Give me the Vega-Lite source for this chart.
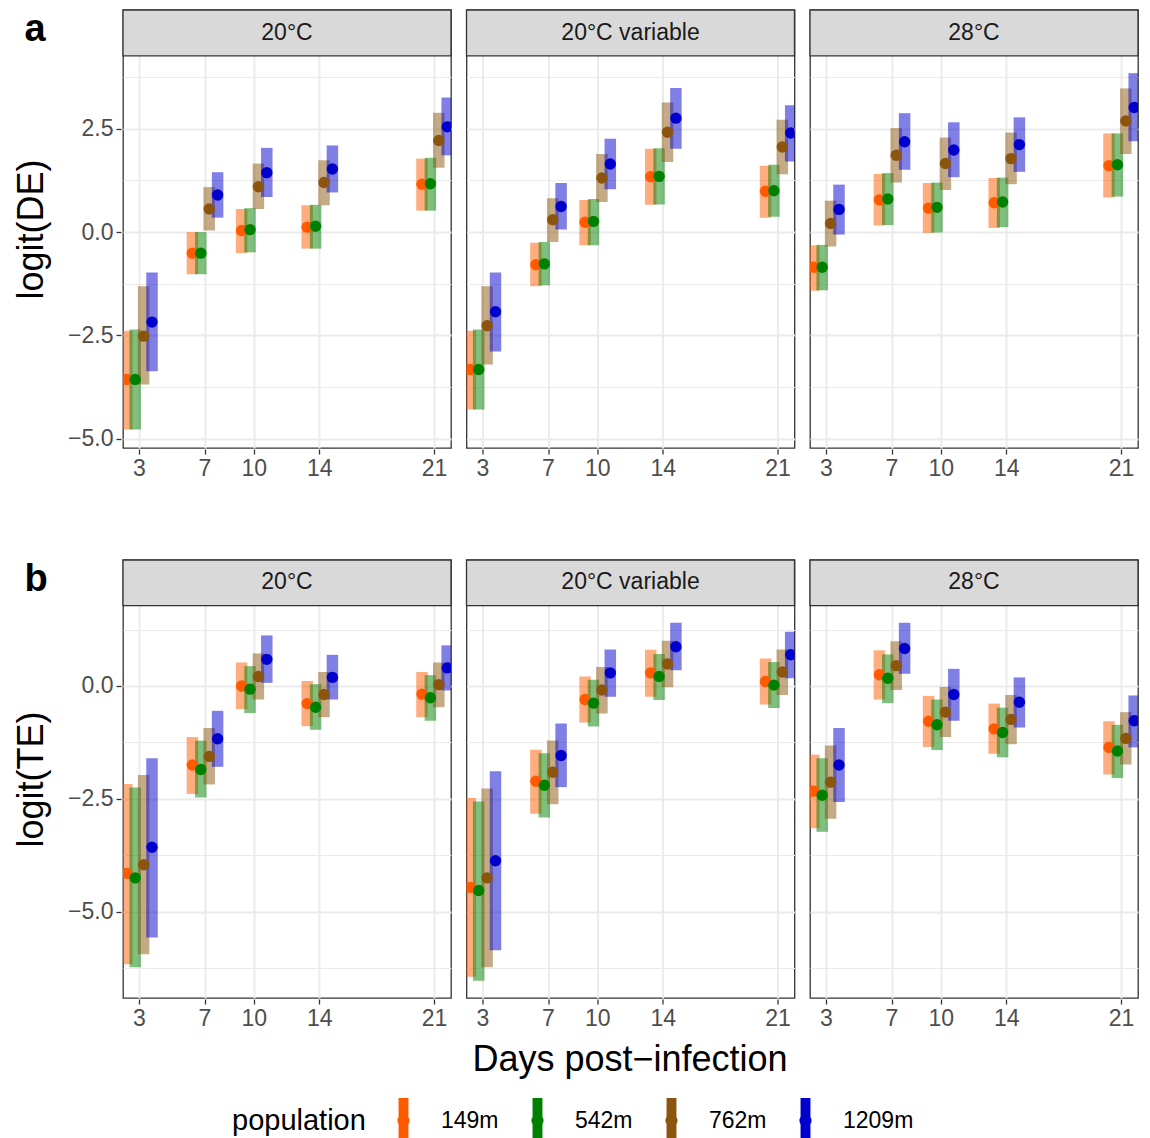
{
  "$schema": "https://vega.github.io/schema/vega-lite/v6.json",
  "padding": {"left": 13, "top": 8, "right": 5, "bottom": 5},
  "datasets": {
    "de": [
      {"condition":"20°C","day":3,"population":"149m","estimate":-3.57,"lower":-4.78,"upper":-2.39},
      {"condition":"20°C","day":3,"population":"542m","estimate":-3.57,"lower":-4.78,"upper":-2.36},
      {"condition":"20°C","day":3,"population":"762m","estimate":-2.52,"lower":-3.69,"upper":-1.31},
      {"condition":"20°C","day":3,"population":"1209m","estimate":-2.18,"lower":-3.37,"upper":-0.98},
      {"condition":"20°C","day":7,"population":"149m","estimate":-0.51,"lower":-1.02,"upper":0.0},
      {"condition":"20°C","day":7,"population":"542m","estimate":-0.51,"lower":-1.02,"upper":0.0},
      {"condition":"20°C","day":7,"population":"762m","estimate":0.56,"lower":0.04,"upper":1.09},
      {"condition":"20°C","day":7,"population":"1209m","estimate":0.90,"lower":0.35,"upper":1.45},
      {"condition":"20°C","day":10,"population":"149m","estimate":0.04,"lower":-0.51,"upper":0.56},
      {"condition":"20°C","day":10,"population":"542m","estimate":0.06,"lower":-0.49,"upper":0.58},
      {"condition":"20°C","day":10,"population":"762m","estimate":1.10,"lower":0.56,"upper":1.66},
      {"condition":"20°C","day":10,"population":"1209m","estimate":1.44,"lower":0.85,"upper":2.04},
      {"condition":"20°C","day":14,"population":"149m","estimate":0.12,"lower":-0.40,"upper":0.65},
      {"condition":"20°C","day":14,"population":"542m","estimate":0.14,"lower":-0.40,"upper":0.66},
      {"condition":"20°C","day":14,"population":"762m","estimate":1.20,"lower":0.65,"upper":1.74},
      {"condition":"20°C","day":14,"population":"1209m","estimate":1.53,"lower":0.96,"upper":2.10},
      {"condition":"20°C","day":21,"population":"149m","estimate":1.16,"lower":0.52,"upper":1.78},
      {"condition":"20°C","day":21,"population":"542m","estimate":1.17,"lower":0.52,"upper":1.80},
      {"condition":"20°C","day":21,"population":"762m","estimate":2.22,"lower":1.56,"upper":2.89},
      {"condition":"20°C","day":21,"population":"1209m","estimate":2.55,"lower":1.86,"upper":3.26},
      {"condition":"20°C variable","day":3,"population":"149m","estimate":-3.33,"lower":-4.30,"upper":-2.39},
      {"condition":"20°C variable","day":3,"population":"542m","estimate":-3.33,"lower":-4.30,"upper":-2.36},
      {"condition":"20°C variable","day":3,"population":"762m","estimate":-2.27,"lower":-3.21,"upper":-1.31},
      {"condition":"20°C variable","day":3,"population":"1209m","estimate":-1.93,"lower":-2.89,"upper":-0.98},
      {"condition":"20°C variable","day":7,"population":"149m","estimate":-0.79,"lower":-1.31,"upper":-0.26},
      {"condition":"20°C variable","day":7,"population":"542m","estimate":-0.77,"lower":-1.29,"upper":-0.24},
      {"condition":"20°C variable","day":7,"population":"762m","estimate":0.30,"lower":-0.24,"upper":0.82},
      {"condition":"20°C variable","day":7,"population":"1209m","estimate":0.62,"lower":0.06,"upper":1.19},
      {"condition":"20°C variable","day":10,"population":"149m","estimate":0.24,"lower":-0.32,"upper":0.78},
      {"condition":"20°C variable","day":10,"population":"542m","estimate":0.26,"lower":-0.32,"upper":0.80},
      {"condition":"20°C variable","day":10,"population":"762m","estimate":1.31,"lower":0.73,"upper":1.89},
      {"condition":"20°C variable","day":10,"population":"1209m","estimate":1.65,"lower":1.04,"upper":2.26},
      {"condition":"20°C variable","day":14,"population":"149m","estimate":1.34,"lower":0.66,"upper":2.02},
      {"condition":"20°C variable","day":14,"population":"542m","estimate":1.35,"lower":0.67,"upper":2.03},
      {"condition":"20°C variable","day":14,"population":"762m","estimate":2.42,"lower":1.70,"upper":3.14},
      {"condition":"20°C variable","day":14,"population":"1209m","estimate":2.76,"lower":2.02,"upper":3.49},
      {"condition":"20°C variable","day":21,"population":"149m","estimate":0.99,"lower":0.35,"upper":1.61},
      {"condition":"20°C variable","day":21,"population":"542m","estimate":1.00,"lower":0.37,"upper":1.63},
      {"condition":"20°C variable","day":21,"population":"762m","estimate":2.06,"lower":1.40,"upper":2.72},
      {"condition":"20°C variable","day":21,"population":"1209m","estimate":2.40,"lower":1.71,"upper":3.07},
      {"condition":"28°C","day":3,"population":"149m","estimate":-0.85,"lower":-1.42,"upper":-0.32},
      {"condition":"28°C","day":3,"population":"542m","estimate":-0.85,"lower":-1.41,"upper":-0.31},
      {"condition":"28°C","day":3,"population":"762m","estimate":0.21,"lower":-0.35,"upper":0.76},
      {"condition":"28°C","day":3,"population":"1209m","estimate":0.55,"lower":-0.06,"upper":1.15},
      {"condition":"28°C","day":7,"population":"149m","estimate":0.78,"lower":0.16,"upper":1.41},
      {"condition":"28°C","day":7,"population":"542m","estimate":0.80,"lower":0.17,"upper":1.43},
      {"condition":"28°C","day":7,"population":"762m","estimate":1.86,"lower":1.20,"upper":2.52},
      {"condition":"28°C","day":7,"population":"1209m","estimate":2.19,"lower":1.51,"upper":2.88},
      {"condition":"28°C","day":10,"population":"149m","estimate":0.58,"lower":-0.02,"upper":1.19},
      {"condition":"28°C","day":10,"population":"542m","estimate":0.60,"lower":-0.01,"upper":1.20},
      {"condition":"28°C","day":10,"population":"762m","estimate":1.66,"lower":1.02,"upper":2.29},
      {"condition":"28°C","day":10,"population":"1209m","estimate":1.99,"lower":1.33,"upper":2.66},
      {"condition":"28°C","day":14,"population":"149m","estimate":0.71,"lower":0.10,"upper":1.31},
      {"condition":"28°C","day":14,"population":"542m","estimate":0.73,"lower":0.12,"upper":1.32},
      {"condition":"28°C","day":14,"population":"762m","estimate":1.78,"lower":1.16,"upper":2.41},
      {"condition":"28°C","day":14,"population":"1209m","estimate":2.12,"lower":1.46,"upper":2.78},
      {"condition":"28°C","day":21,"population":"149m","estimate":1.61,"lower":0.84,"upper":2.39},
      {"condition":"28°C","day":21,"population":"542m","estimate":1.63,"lower":0.86,"upper":2.39},
      {"condition":"28°C","day":21,"population":"762m","estimate":2.69,"lower":1.89,"upper":3.48},
      {"condition":"28°C","day":21,"population":"1209m","estimate":3.02,"lower":2.20,"upper":3.85}
    ],
    "te": [
      {"condition":"20°C","day":3,"population":"149m","estimate":-4.15,"lower":-6.16,"upper":-2.17},
      {"condition":"20°C","day":3,"population":"542m","estimate":-4.25,"lower":-6.23,"upper":-2.25},
      {"condition":"20°C","day":3,"population":"762m","estimate":-3.96,"lower":-5.94,"upper":-1.97},
      {"condition":"20°C","day":3,"population":"1209m","estimate":-3.57,"lower":-5.57,"upper":-1.60},
      {"condition":"20°C","day":7,"population":"149m","estimate":-1.75,"lower":-2.39,"upper":-1.13},
      {"condition":"20°C","day":7,"population":"542m","estimate":-1.85,"lower":-2.47,"upper":-1.21},
      {"condition":"20°C","day":7,"population":"762m","estimate":-1.56,"lower":-2.18,"upper":-0.93},
      {"condition":"20°C","day":7,"population":"1209m","estimate":-1.17,"lower":-1.79,"upper":-0.55},
      {"condition":"20°C","day":10,"population":"149m","estimate":0.00,"lower":-0.51,"upper":0.52},
      {"condition":"20°C","day":10,"population":"542m","estimate":-0.07,"lower":-0.60,"upper":0.44},
      {"condition":"20°C","day":10,"population":"762m","estimate":0.21,"lower":-0.30,"upper":0.72},
      {"condition":"20°C","day":10,"population":"1209m","estimate":0.59,"lower":0.07,"upper":1.12},
      {"condition":"20°C","day":14,"population":"149m","estimate":-0.39,"lower":-0.89,"upper":0.11},
      {"condition":"20°C","day":14,"population":"542m","estimate":-0.47,"lower":-0.97,"upper":0.04},
      {"condition":"20°C","day":14,"population":"762m","estimate":-0.19,"lower":-0.69,"upper":0.31},
      {"condition":"20°C","day":14,"population":"1209m","estimate":0.19,"lower":-0.30,"upper":0.69},
      {"condition":"20°C","day":21,"population":"149m","estimate":-0.18,"lower":-0.69,"upper":0.31},
      {"condition":"20°C","day":21,"population":"542m","estimate":-0.26,"lower":-0.77,"upper":0.24},
      {"condition":"20°C","day":21,"population":"762m","estimate":0.03,"lower":-0.47,"upper":0.52},
      {"condition":"20°C","day":21,"population":"1209m","estimate":0.40,"lower":-0.10,"upper":0.90},
      {"condition":"20°C variable","day":3,"population":"149m","estimate":-4.46,"lower":-6.44,"upper":-2.48},
      {"condition":"20°C variable","day":3,"population":"542m","estimate":-4.53,"lower":-6.53,"upper":-2.56},
      {"condition":"20°C variable","day":3,"population":"762m","estimate":-4.25,"lower":-6.23,"upper":-2.27},
      {"condition":"20°C variable","day":3,"population":"1209m","estimate":-3.87,"lower":-5.85,"upper":-1.89},
      {"condition":"20°C variable","day":7,"population":"149m","estimate":-2.11,"lower":-2.83,"upper":-1.41},
      {"condition":"20°C variable","day":7,"population":"542m","estimate":-2.20,"lower":-2.91,"upper":-1.49},
      {"condition":"20°C variable","day":7,"population":"762m","estimate":-1.91,"lower":-2.62,"upper":-1.21},
      {"condition":"20°C variable","day":7,"population":"1209m","estimate":-1.54,"lower":-2.24,"upper":-0.83},
      {"condition":"20°C variable","day":10,"population":"149m","estimate":-0.30,"lower":-0.81,"upper":0.21},
      {"condition":"20°C variable","day":10,"population":"542m","estimate":-0.38,"lower":-0.90,"upper":0.14},
      {"condition":"20°C variable","day":10,"population":"762m","estimate":-0.09,"lower":-0.61,"upper":0.42},
      {"condition":"20°C variable","day":10,"population":"1209m","estimate":0.29,"lower":-0.24,"upper":0.81},
      {"condition":"20°C variable","day":14,"population":"149m","estimate":0.29,"lower":-0.24,"upper":0.80},
      {"condition":"20°C variable","day":14,"population":"542m","estimate":0.21,"lower":-0.31,"upper":0.71},
      {"condition":"20°C variable","day":14,"population":"762m","estimate":0.49,"lower":-0.03,"upper":1.00},
      {"condition":"20°C variable","day":14,"population":"1209m","estimate":0.87,"lower":0.35,"upper":1.40},
      {"condition":"20°C variable","day":21,"population":"149m","estimate":0.10,"lower":-0.41,"upper":0.61},
      {"condition":"20°C variable","day":21,"population":"542m","estimate":0.02,"lower":-0.49,"upper":0.53},
      {"condition":"20°C variable","day":21,"population":"762m","estimate":0.31,"lower":-0.20,"upper":0.81},
      {"condition":"20°C variable","day":21,"population":"1209m","estimate":0.69,"lower":0.17,"upper":1.20},
      {"condition":"28°C","day":3,"population":"149m","estimate":-2.33,"lower":-3.15,"upper":-1.52},
      {"condition":"28°C","day":3,"population":"542m","estimate":-2.42,"lower":-3.23,"upper":-1.60},
      {"condition":"28°C","day":3,"population":"762m","estimate":-2.13,"lower":-2.94,"upper":-1.32},
      {"condition":"28°C","day":3,"population":"1209m","estimate":-1.75,"lower":-2.57,"upper":-0.93},
      {"condition":"28°C","day":7,"population":"149m","estimate":0.25,"lower":-0.30,"upper":0.79},
      {"condition":"28°C","day":7,"population":"542m","estimate":0.17,"lower":-0.38,"upper":0.70},
      {"condition":"28°C","day":7,"population":"762m","estimate":0.45,"lower":-0.09,"upper":0.99},
      {"condition":"28°C","day":7,"population":"1209m","estimate":0.83,"lower":0.27,"upper":1.40},
      {"condition":"28°C","day":10,"population":"149m","estimate":-0.78,"lower":-1.35,"upper":-0.22},
      {"condition":"28°C","day":10,"population":"542m","estimate":-0.86,"lower":-1.42,"upper":-0.30},
      {"condition":"28°C","day":10,"population":"762m","estimate":-0.58,"lower":-1.13,"upper":-0.02},
      {"condition":"28°C","day":10,"population":"1209m","estimate":-0.19,"lower":-0.77,"upper":0.38},
      {"condition":"28°C","day":14,"population":"149m","estimate":-0.95,"lower":-1.50,"upper":-0.39},
      {"condition":"28°C","day":14,"population":"542m","estimate":-1.03,"lower":-1.58,"upper":-0.48},
      {"condition":"28°C","day":14,"population":"762m","estimate":-0.74,"lower":-1.29,"upper":-0.20},
      {"condition":"28°C","day":14,"population":"1209m","estimate":-0.36,"lower":-0.92,"upper":0.19},
      {"condition":"28°C","day":21,"population":"149m","estimate":-1.36,"lower":-1.96,"upper":-0.78},
      {"condition":"28°C","day":21,"population":"542m","estimate":-1.44,"lower":-2.04,"upper":-0.86},
      {"condition":"28°C","day":21,"population":"762m","estimate":-1.16,"lower":-1.74,"upper":-0.58},
      {"condition":"28°C","day":21,"population":"1209m","estimate":-0.77,"lower":-1.36,"upper":-0.21}
    ]
  },
  "config": {
    "font": "Liberation Sans",
    "view": {"stroke": "#333333", "strokeWidth": 1.3},
    "facet": {"spacing": 11.5},
    "axis": {
      "labelFont": "Liberation Sans", "labelFontSize": 23, "labelColor": "#4D4D4D",
      "tickColor": "#333333", "tickSize": 5, "tickWidth": 1.3, "domain": false,
      "gridColor": "#EBEBEB", "labelPadding": 3,
      "titleFont": "Liberation Sans", "titleFontSize": 36, "titleFontWeight": "normal", "titleColor": "black"
    },
    "axisY": {
      "grid": true,
      "format": ".1f", "labelOverlap": false, "titlePadding": 17,
      "labelExpr": "datum.value % 2.5 !== 0 ? '' : datum.label",
      "gridWidth": {"condition": {"test": "datum.value % 2.5 !== 0", "value": 1}, "value": 2},
      "tickOpacity": {"condition": {"test": "datum.value % 2.5 !== 0", "value": 0}, "value": 1}
    },
    "axisX": {"labelAngle": 0, "grid": true, "gridWidth": 2, "bandPosition": 0.5},
    "legend": {
      "orient": "none", "legendX": 109, "legendY": 1088, "direction": "horizontal", "titleOrient": "left",
      "titleFontSize": 29, "titleFontWeight": "normal", "titleColor": "black", "titleFont": "Liberation Sans",
      "titlePadding": 15, "titleBaseline": "middle",
      "labelFontSize": 23, "labelColor": "black", "labelFont": "Liberation Sans",
      "labelOffset": 15, "columnPadding": 16
    }
  },
  "spacing": 78,
  "vconcat": [
    {
      "data": {"name": "de"},
      "title": {"text": "a", "anchor": "start", "frame": "bounds", "fontSize": 38, "fontWeight": "bold", "color": "black", "offset": -40, "dx": 11},
      "facet": {"column": {"field": "condition", "type": "nominal", "sort": ["20°C", "20°C variable", "28°C"], "header": {"title": null, "labels": false}}},
      "spacing": 11.5,
      "spec": {
        "width": 328,
        "height": 438,
        "layer": [
          {
            "transform": [{"aggregate": [{"op": "count", "as": "n"}], "groupby": ["condition"]}],
            "mark": {"type": "rect", "fill": "#D9D9D9", "stroke": "#333333", "strokeWidth": 1.3},
            "encoding": {
              "y": {"datum": 4.27, "type": "quantitative", "scale": {"domain": [-5.23, 5.38], "nice": false, "zero": false}, "title": "logit(DE)", "axis": {"grid": true, "values": [-5, -3.75, -2.5, -1.25, 0, 1.25, 2.5, 3.75]}},
              "y2": {"datum": 5.38}
            }
          },
          {
            "transform": [{"aggregate": [{"op": "count", "as": "n"}], "groupby": ["condition"]}],
            "mark": {"type": "text", "fontSize": 23, "color": "#1A1A1A", "baseline": "middle", "font": "Liberation Sans"},
            "encoding": {
              "y": {"datum": 4.83, "type": "quantitative", "title": "logit(DE)", "axis": {"grid": true, "values": [-5, -3.75, -2.5, -1.25, 0, 1.25, 2.5, 3.75]}},
              "text": {"field": "condition"}
            }
          },
          {
            "mark": {"type": "bar", "opacity": 0.5, "width": 11.5, "clip": true},
            "encoding": {
              "x": {"field": "day", "type": "ordinal", "title": null, "axis": {"values": [3, 7, 10, 14, 21]}, "scale": {"type": "band", "domain": [3,4,5,6,7,8,9,10,11,12,13,14,15,16,17,18,19,20,21], "paddingInner": 0, "paddingOuter": 0.5}},
              "xOffset": {"field": "population", "type": "nominal", "scale": {"type": "band", "domain": ["149m", "542m", "762m", "1209m"], "range": [-8.6, 25], "paddingInner": 0, "paddingOuter": 0}},
              "y": {"field": "lower", "type": "quantitative", "title": "logit(DE)", "axis": {"grid": true, "values": [-5, -3.75, -2.5, -1.25, 0, 1.25, 2.5, 3.75]}},
              "y2": {"field": "upper"},
              "color": {"field": "population", "type": "nominal", "title": "population",
                "scale": {"domain": ["149m", "542m", "762m", "1209m"], "range": ["#FF5A00", "#008000", "#8B550D", "#0000CD"]},
                "legend": {"symbolType": "M-0.22,-1H0.22V1H-0.22Z M0.27,0A0.27,0.27 0 1 1 -0.27,0A0.27,0.27 0 1 1 0.27,0Z", "symbolSize": 2025, "symbolOpacity": 0.6, "symbolStrokeWidth": 0}}
            }
          },
          {
            "mark": {"type": "point", "filled": true, "size": 130, "opacity": 1, "clip": true},
            "encoding": {
              "x": {"field": "day", "type": "ordinal", "title": null, "axis": {"values": [3, 7, 10, 14, 21]}},
              "xOffset": {"field": "population", "type": "nominal"},
              "y": {"field": "estimate", "type": "quantitative", "title": "logit(DE)", "axis": {"grid": true, "values": [-5, -3.75, -2.5, -1.25, 0, 1.25, 2.5, 3.75]}},
              "color": {"field": "population", "type": "nominal", "title": "population"}
            }
          }
        ]
      }
    },
    {
      "data": {"name": "te"},
      "title": {"text": "b", "anchor": "start", "frame": "bounds", "fontSize": 38, "fontWeight": "bold", "color": "black", "offset": -40, "dx": 11},
      "facet": {"column": {"field": "condition", "type": "nominal", "sort": ["20°C", "20°C variable", "28°C"], "header": {"title": "Days post−infection", "titleOrient": "bottom", "labels": false, "titleFontSize": 36, "titleFont": "Liberation Sans", "titleFontWeight": "normal", "titleColor": "black", "titlePadding": 3}}},
      "spacing": 11.5,
      "spec": {
        "width": 328,
        "height": 438,
        "layer": [
          {
            "transform": [{"aggregate": [{"op": "count", "as": "n"}], "groupby": ["condition"]}],
            "mark": {"type": "rect", "fill": "#D9D9D9", "stroke": "#333333", "strokeWidth": 1.3},
            "encoding": {
              "y": {"datum": 1.78, "type": "quantitative", "scale": {"domain": [-6.91, 2.79], "nice": false, "zero": false}, "title": "logit(TE)", "axis": {"grid": true, "values": [-6.25, -5, -3.75, -2.5, -1.25, 0, 1.25]}},
              "y2": {"datum": 2.79}
            }
          },
          {
            "transform": [{"aggregate": [{"op": "count", "as": "n"}], "groupby": ["condition"]}],
            "mark": {"type": "text", "fontSize": 23, "color": "#1A1A1A", "baseline": "middle", "font": "Liberation Sans"},
            "encoding": {
              "y": {"datum": 2.30, "type": "quantitative", "title": "logit(TE)", "axis": {"grid": true, "values": [-6.25, -5, -3.75, -2.5, -1.25, 0, 1.25]}},
              "text": {"field": "condition"}
            }
          },
          {
            "mark": {"type": "bar", "opacity": 0.5, "width": 11.5, "clip": true},
            "encoding": {
              "x": {"field": "day", "type": "ordinal", "title": null, "axis": {"values": [3, 7, 10, 14, 21]}, "scale": {"type": "band", "domain": [3,4,5,6,7,8,9,10,11,12,13,14,15,16,17,18,19,20,21], "paddingInner": 0, "paddingOuter": 0.5}},
              "xOffset": {"field": "population", "type": "nominal", "scale": {"type": "band", "domain": ["149m", "542m", "762m", "1209m"], "range": [-8.6, 25], "paddingInner": 0, "paddingOuter": 0}},
              "y": {"field": "lower", "type": "quantitative", "title": "logit(TE)", "axis": {"grid": true, "values": [-6.25, -5, -3.75, -2.5, -1.25, 0, 1.25]}},
              "y2": {"field": "upper"},
              "color": {"field": "population", "type": "nominal", "title": "population",
                "scale": {"domain": ["149m", "542m", "762m", "1209m"], "range": ["#FF5A00", "#008000", "#8B550D", "#0000CD"]},
                "legend": {"symbolType": "M-0.22,-1H0.22V1H-0.22Z M0.27,0A0.27,0.27 0 1 1 -0.27,0A0.27,0.27 0 1 1 0.27,0Z", "symbolSize": 2025, "symbolOpacity": 0.6, "symbolStrokeWidth": 0}}
            }
          },
          {
            "mark": {"type": "point", "filled": true, "size": 130, "opacity": 1, "clip": true},
            "encoding": {
              "x": {"field": "day", "type": "ordinal", "title": null, "axis": {"values": [3, 7, 10, 14, 21]}},
              "xOffset": {"field": "population", "type": "nominal"},
              "y": {"field": "estimate", "type": "quantitative", "title": "logit(TE)", "axis": {"grid": true, "values": [-6.25, -5, -3.75, -2.5, -1.25, 0, 1.25]}},
              "color": {"field": "population", "type": "nominal", "title": "population"}
            }
          }
        ]
      }
    }
  ]
}
